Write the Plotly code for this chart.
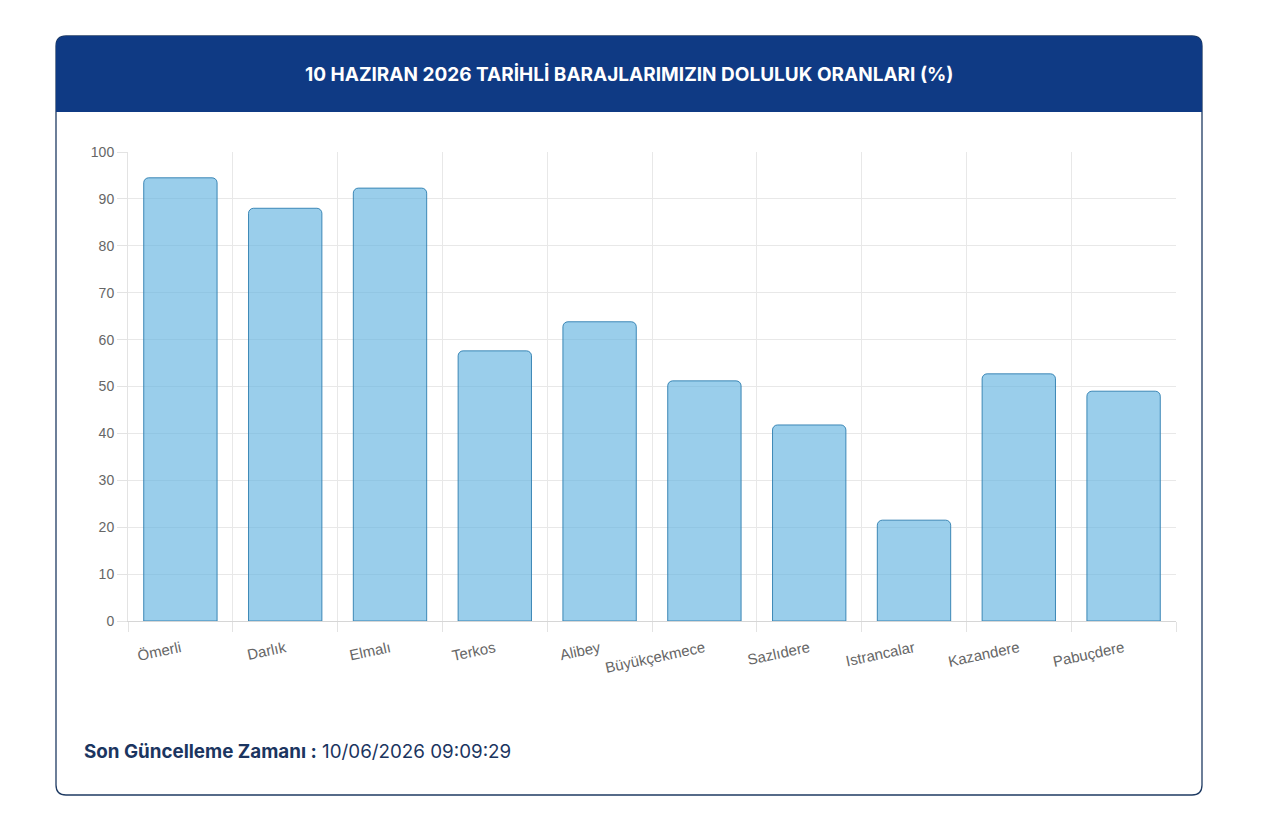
import plotly.graph_objects as go

categories = ["Ömerli", "Darlık", "Elmalı", "Terkos", "Alibey", "Büyükçekmece",
              "Sazlıdere", "Istrancalar", "Kazandere", "Pabuçdere"]
values = [94.5, 88.0, 92.3, 57.6, 63.8, 51.2, 41.8, 21.5, 52.7, 49.0]
title_text = "10 HAZIRAN 2026 TARİHLİ BARAJLARIMIZIN DOLULUK ORANLARI (%)"
footer_label = "Son Güncelleme Zamanı :"
footer_value = "10/06/2026 09:09:29"

W, H = 1280, 833
PL, PR, PT, PB = 128, 1176, 152, 621  # plot area in pixels


def px(x):
    return (x - PL) / (PR - PL)


def py(y):
    return (PB - y) / (PB - PT)


def rounded_rect(x0, y0, x1, y1, r, top_only=False):
    X0, X1 = px(x0), px(x1)
    Y0, Y1 = py(y0), py(y1)  # Y0 top, Y1 bottom
    rx = r / (PR - PL)
    ry = r / (PB - PT)
    p = f"M {X0},{Y1 + (0 if top_only else ry)} "
    p += f"L {X0},{Y0 - ry} Q {X0},{Y0} {X0 + rx},{Y0} "
    p += f"L {X1 - rx},{Y0} Q {X1},{Y0} {X1},{Y0 - ry} "
    if top_only:
        p += f"L {X1},{Y1} L {X0},{Y1} Z"
    else:
        p += f"L {X1},{Y1 + ry} Q {X1},{Y1} {X1 - rx},{Y1} "
        p += f"L {X0 + rx},{Y1} Q {X0},{Y1} {X0},{Y1 + ry} Z"
    return p


fig = go.Figure()
fig.add_trace(go.Bar(
    x=categories, y=values,
    marker=dict(color="rgba(100,180,225,0.65)",
                line=dict(color="rgba(45,125,175,0.9)", width=1)),
    hoverinfo="x+y",
))

shapes = [
    dict(type="path", xref="paper", yref="paper", layer="below",
         path=rounded_rect(56, 36, 1202, 795, 10),
         line=dict(color="#1f3b63", width=1.3), fillcolor="white"),
    dict(type="path", xref="paper", yref="paper", layer="above",
         path=rounded_rect(56, 36, 1202, 112, 10, top_only=True),
         line=dict(width=0), fillcolor="#0f3a84"),
]

annotations = [
    dict(text=f"<b>{title_text}</b>", x=px(629), y=py(75), xref="paper", yref="paper",
         showarrow=False, xanchor="center", yanchor="middle",
         font=dict(family="Inter, Lato, sans-serif", size=19, color="white")),
    dict(text=f"<b>{footer_label}</b> {footer_value}", x=px(82), y=py(751),
         xref="paper", yref="paper", showarrow=False, xanchor="left", yanchor="middle",
         font=dict(family="Inter, Lato, sans-serif", size=18.8, color="#1b3560")),
]

fig.update_layout(
    width=W, height=H,
    margin=dict(l=PL, r=W - PR, t=PT, b=H - PB, pad=0),
    paper_bgcolor="white", plot_bgcolor="rgba(0,0,0,0)",
    bargap=0.3, barcornerradius=5,
    showlegend=False,
    shapes=shapes, annotations=annotations,
    font=dict(family="Liberation Sans, Arial, sans-serif", size=14, color="#666"),
)
fig.update_xaxes(
    type="category", tickson="boundaries", ticks="outside", ticklen=10,
    tickcolor="#e3e3e3", showgrid=True, gridcolor="#e8e8e8", gridwidth=1,
    showline=True, linecolor="#d6d6d6", linewidth=1, tickangle=-12,
    ticklabelstandoff=12,
    tickfont=dict(family="Liberation Sans, Arial, sans-serif", size=15, color="#666"),
)
fig.update_yaxes(
    range=[0, 100], dtick=10, ticks="outside", ticklen=10, tickcolor="#e3e3e3",
    showgrid=True, gridcolor="#e8e8e8", gridwidth=1, zeroline=False,
    showline=True, linecolor="#e3e3e3",
    tickfont=dict(family="Liberation Sans, Arial, sans-serif", size=14, color="#666"),
)

fig.write_html("out.html")
